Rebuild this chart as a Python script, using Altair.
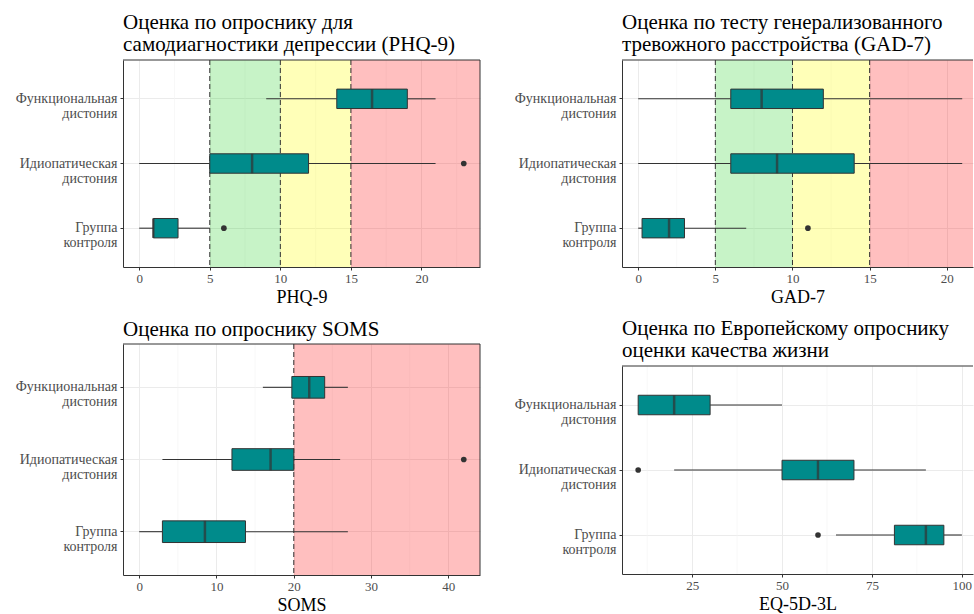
import altair as alt
import pandas as pd

groups = ["Функциональная дистония", "Идиопатическая дистония", "Группа контроля"]

# PHQ-9: five-number summaries per group
phq_lo = [9, 0, 0]
phq_q1 = [14, 5, 1]
phq_med = [16.5, 8, 1]
phq_q3 = [19, 12, 2.75]
phq_hi = [21, 21, 5]
phq_out_group = ["Идиопатическая дистония", "Группа контроля"]
phq_out_value = [23, 6]

# GAD-7
gad_lo = [0, 0, 0]
gad_q1 = [6, 6, 0.25]
gad_med = [8, 9, 2]
gad_q3 = [12, 14, 3]
gad_hi = [21, 21, 7]
gad_out_group = ["Группа контроля"]
gad_out_value = [11]

# SOMS
soms_lo = [16, 3, 0]
soms_q1 = [19.75, 12, 3]
soms_med = [22, 17, 8.5]
soms_q3 = [24, 20, 13.75]
soms_hi = [27, 26, 27]
soms_out_group = ["Идиопатическая дистония"]
soms_out_value = [42]

# EQ-5D-3L
eq_lo = [10, 20, 65]
eq_q1 = [10, 50, 81.25]
eq_med = [20, 60, 90]
eq_q3 = [30, 70, 95]
eq_hi = [50, 90, 100]
eq_out_group = ["Идиопатическая дистония", "Группа контроля"]
eq_out_value = [10, 60]

# severity zones (start, end, colour, alpha) and dashed cut-offs
anx_zone_start = [5, 10, 15]
anx_zone_end = [10, 15, 50]
anx_zone_color = ["#00c800", "#ffff00", "#ff0000"]
anx_zone_alpha = [0.22, 0.28, 0.25]
anx_cutoffs = [5, 10, 15]

soms_zone_start = [20]
soms_zone_end = [60]
soms_zone_color = ["#ff0000"]
soms_zone_alpha = [0.25]
soms_cutoffs = [20]

TEAL = "#008b8b"
DARK = "#333333"
SERIF = "Liberation Serif"


def panel(title, xtitle, lo, q1, med, q3, hi, out_g, out_v,
          zones, cutoffs, domain, ticks, minor, width, height, right_border=True):
    box = pd.DataFrame({"group": groups, "lo": lo, "q1": q1, "med": med, "q3": q3, "hi": hi})
    out = pd.DataFrame({"group": out_g, "value": out_v})

    xscale = alt.Scale(domain=domain, nice=False, zero=False)
    yscale = alt.Scale(domain=groups, paddingInner=0.7, paddingOuter=0.45)
    band = 0.3 * height / 3.2

    yenc = alt.Y("group:N", scale=yscale, sort=groups,
                 axis=alt.Axis(title=None, labelExpr="split(datum.label, ' ')",
                               bandPosition=0.5, grid=True, ticks=True, tickSize=3,
                               labelLineHeight=15, labelPadding=3, domainColor=DARK))
    xaxis = alt.Axis(title=xtitle, values=ticks, grid=True, tickSize=3, labelPadding=2,
                     domainColor=DARK, titlePadding=3)

    base = alt.Chart(box)

    layers = []
    layers.append(
        alt.Chart(pd.DataFrame({"m": minor})).mark_rule(color="#f3f3f3", strokeWidth=0.6)
        .encode(x=alt.X("m:Q", scale=xscale, axis=xaxis))
    )
    if zones is not None:
        zs, ze, zc, za = zones
        zdf = pd.DataFrame({"s": zs, "e": ze, "c": zc, "a": za})
        layers.append(
            alt.Chart(zdf).mark_rect(clip=True)
            .encode(x=alt.X("s:Q", scale=xscale), x2="e:Q",
                    y=alt.value(0), y2=alt.value(height),
                    color=alt.Color("c:N", scale=None),
                    opacity=alt.Opacity("a:Q", scale=None))
        )
        layers.append(
            alt.Chart(pd.DataFrame({"c": cutoffs})).mark_rule(color=DARK, strokeDash=[5, 3], strokeWidth=1)
            .encode(x=alt.X("c:Q", scale=xscale))
        )
    layers.append(
        base.mark_rule(color=DARK, strokeWidth=1.1)
        .encode(x=alt.X("lo:Q", scale=xscale), x2="q1:Q", y=yenc)
    )
    layers.append(
        base.mark_rule(color=DARK, strokeWidth=1.1)
        .encode(x=alt.X("q3:Q", scale=xscale), x2="hi:Q", y=yenc)
    )
    layers.append(
        base.mark_bar(color=TEAL, stroke=DARK, strokeWidth=1)
        .encode(x=alt.X("q1:Q", scale=xscale), x2="q3:Q", y=yenc)
    )
    layers.append(
        base.mark_tick(color=DARK, thickness=2.5, size=band, orient="vertical")
        .encode(x=alt.X("med:Q", scale=xscale), y=yenc)
    )
    layers.append(
        alt.Chart(out).mark_circle(color=DARK, size=32, opacity=1)
        .encode(x=alt.X("value:Q", scale=xscale), y=alt.Y("group:N", scale=yscale, sort=groups))
    )
    border = alt.Chart(pd.DataFrame({"k": [0]}))
    layers.append(
        border.mark_rule(color=DARK, strokeWidth=1)
        .encode(x=alt.value(0), x2=alt.value(width), y=alt.value(0))
    )
    if right_border:
        layers.append(
            border.mark_rule(color=DARK, strokeWidth=1)
            .encode(x=alt.value(width), y=alt.value(0), y2=alt.value(height))
        )
    return alt.layer(*layers).properties(
        width=width, height=height,
        title=alt.TitleParams(title, anchor="start", frame="group", offset=4,
                              font=SERIF, fontSize=21, fontWeight="normal",
                              color="#000000", lineHeight=22.4),
    )


phq = panel(["Оценка по опроснику для", "самодиагностики депрессии (PHQ-9)"], "PHQ-9",
            phq_lo, phq_q1, phq_med, phq_q3, phq_hi, phq_out_group, phq_out_value,
            (anx_zone_start, anx_zone_end, anx_zone_color, anx_zone_alpha), anx_cutoffs,
            [-1.15, 24.15], [0, 5, 10, 15, 20], [2.5, 7.5, 12.5, 17.5, 22.5], 357, 207)

gad = panel(["Оценка по тесту генерализованного", "тревожного расстройства (GAD-7)"], "GAD-7",
            gad_lo, gad_q1, gad_med, gad_q3, gad_hi, gad_out_group, gad_out_value,
            (anx_zone_start, anx_zone_end, anx_zone_color, anx_zone_alpha), anx_cutoffs,
            [-1.05, 21.7], [0, 5, 10, 15, 20], [2.5, 7.5, 12.5, 17.5], 351, 207,
            right_border=False)

soms = panel(["Оценка по опроснику SOMS"], "SOMS",
             soms_lo, soms_q1, soms_med, soms_q3, soms_hi, soms_out_group, soms_out_value,
             (soms_zone_start, soms_zone_end, soms_zone_color, soms_zone_alpha), soms_cutoffs,
             [-2.1, 44.1], [0, 10, 20, 30, 40], [5, 15, 25, 35], 357, 231)

eq = panel(["Оценка по Европейскому опроснику", "оценки качества жизни"], "EQ-5D-3L",
           eq_lo, eq_q1, eq_med, eq_q3, eq_hi, eq_out_group, eq_out_value,
           None, None,
           [5.5, 103.1], [25, 50, 75, 100], [12.5, 37.5, 62.5, 87.5], 351, 208,
           right_border=False)

# two columns so that each bottom panel sits directly under its own title height
chart = alt.hconcat(
    alt.vconcat(phq, soms, spacing=12),
    alt.vconcat(gad, eq, spacing=12),
    spacing=33,
).properties(
    padding={"left": 15, "top": 12, "right": 0, "bottom": 0},
    background="white",
).configure_view(
    stroke=None,
).configure_axis(
    labelFont=SERIF, labelFontSize=13, labelColor="#4d4d4d",
    titleFont=SERIF, titleFontSize=18, titleFontWeight="normal", titleColor="#000000",
    gridColor="#ebebeb", gridWidth=1, tickColor=DARK, domainWidth=1,
).configure_axisY(
    labelFontSize=14,
)

chart.save("out.html", embed_options={"renderer": "svg", "actions": False})
